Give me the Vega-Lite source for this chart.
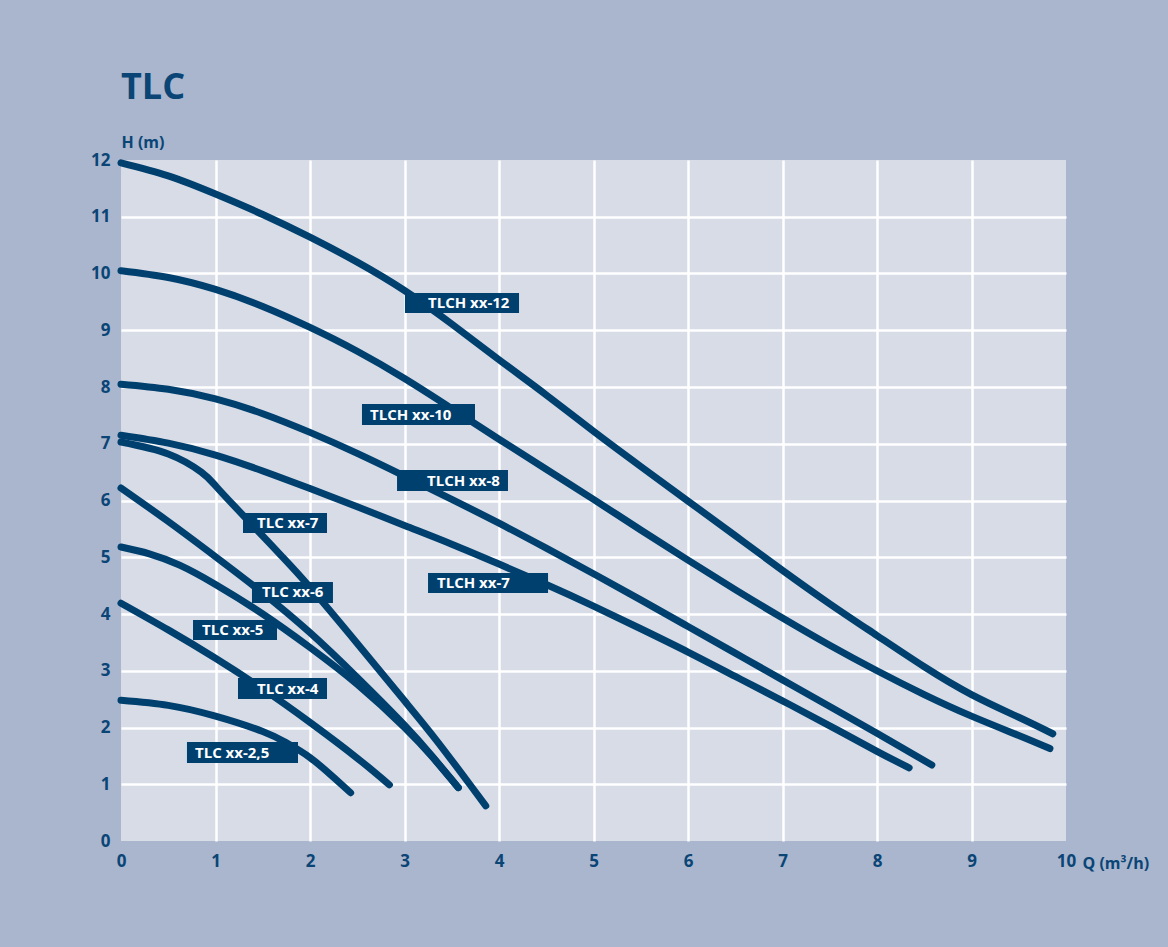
{
  "$schema": "https://vega.github.io/schema/vega-lite/v6.json",
  "width": 945,
  "height": 681,
  "autosize": {"type": "none"},
  "padding": {"left": 121, "top": 160, "right": 102, "bottom": 106},
  "background": "#a9b6ce",
  "title": {"text": "TLC", "anchor": "start", "frame": "group", "fontSize": 36, "font": "Open Sans", "fontWeight": "bold", "color": "#0a4576", "offset": 27},
  "config": {
    "view": {"fill": "#d8dce6", "stroke": null},
    "axis": {"domain": false, "ticks": false, "labelFont": "Open Sans", "labelFontWeight": "bold", "labelFontSize": 17, "labelColor": "#0a4576", "titleFont": "Open Sans", "titleFontWeight": "bold", "titleColor": "#0a4576", "gridWidth": 2.5, "format": "d"}
  },
  "datasets": {
    "curves": [
      {"pump": "TLCH xx-12", "Q": 0, "H": 11.95}, {"pump": "TLCH xx-12", "Q": 0.5, "H": 11.72}, {"pump": "TLCH xx-12", "Q": 1, "H": 11.4}, {"pump": "TLCH xx-12", "Q": 1.5, "H": 11.04}, {"pump": "TLCH xx-12", "Q": 2, "H": 10.64}, {"pump": "TLCH xx-12", "Q": 2.5, "H": 10.2}, {"pump": "TLCH xx-12", "Q": 3, "H": 9.7}, {"pump": "TLCH xx-12", "Q": 3.5, "H": 9.11}, {"pump": "TLCH xx-12", "Q": 4, "H": 8.48}, {"pump": "TLCH xx-12", "Q": 4.5, "H": 7.86}, {"pump": "TLCH xx-12", "Q": 5, "H": 7.22}, {"pump": "TLCH xx-12", "Q": 5.5, "H": 6.6}, {"pump": "TLCH xx-12", "Q": 6, "H": 5.99}, {"pump": "TLCH xx-12", "Q": 6.5, "H": 5.38}, {"pump": "TLCH xx-12", "Q": 7, "H": 4.77}, {"pump": "TLCH xx-12", "Q": 7.5, "H": 4.18}, {"pump": "TLCH xx-12", "Q": 8, "H": 3.62}, {"pump": "TLCH xx-12", "Q": 8.5, "H": 3.07}, {"pump": "TLCH xx-12", "Q": 9, "H": 2.58}, {"pump": "TLCH xx-12", "Q": 9.5, "H": 2.18}, {"pump": "TLCH xx-12", "Q": 9.86, "H": 1.89},
      {"pump": "TLCH xx-10", "Q": 0, "H": 10.05}, {"pump": "TLCH xx-10", "Q": 0.5, "H": 9.93}, {"pump": "TLCH xx-10", "Q": 1, "H": 9.72}, {"pump": "TLCH xx-10", "Q": 1.5, "H": 9.42}, {"pump": "TLCH xx-10", "Q": 2, "H": 9.05}, {"pump": "TLCH xx-10", "Q": 2.5, "H": 8.63}, {"pump": "TLCH xx-10", "Q": 3, "H": 8.15}, {"pump": "TLCH xx-10", "Q": 3.5, "H": 7.62}, {"pump": "TLCH xx-10", "Q": 4, "H": 7.08}, {"pump": "TLCH xx-10", "Q": 4.5, "H": 6.55}, {"pump": "TLCH xx-10", "Q": 5, "H": 6.02}, {"pump": "TLCH xx-10", "Q": 5.5, "H": 5.48}, {"pump": "TLCH xx-10", "Q": 6, "H": 4.95}, {"pump": "TLCH xx-10", "Q": 6.5, "H": 4.43}, {"pump": "TLCH xx-10", "Q": 7, "H": 3.93}, {"pump": "TLCH xx-10", "Q": 7.5, "H": 3.45}, {"pump": "TLCH xx-10", "Q": 8, "H": 3.0}, {"pump": "TLCH xx-10", "Q": 8.5, "H": 2.58}, {"pump": "TLCH xx-10", "Q": 9, "H": 2.2}, {"pump": "TLCH xx-10", "Q": 9.5, "H": 1.86}, {"pump": "TLCH xx-10", "Q": 9.83, "H": 1.63},
      {"pump": "TLCH xx-8", "Q": 0, "H": 8.05}, {"pump": "TLCH xx-8", "Q": 0.5, "H": 7.96}, {"pump": "TLCH xx-8", "Q": 1, "H": 7.79}, {"pump": "TLCH xx-8", "Q": 1.5, "H": 7.53}, {"pump": "TLCH xx-8", "Q": 2, "H": 7.2}, {"pump": "TLCH xx-8", "Q": 2.5, "H": 6.83}, {"pump": "TLCH xx-8", "Q": 3, "H": 6.43}, {"pump": "TLCH xx-8", "Q": 3.5, "H": 6.02}, {"pump": "TLCH xx-8", "Q": 4, "H": 5.6}, {"pump": "TLCH xx-8", "Q": 4.5, "H": 5.16}, {"pump": "TLCH xx-8", "Q": 5, "H": 4.71}, {"pump": "TLCH xx-8", "Q": 5.5, "H": 4.25}, {"pump": "TLCH xx-8", "Q": 6, "H": 3.78}, {"pump": "TLCH xx-8", "Q": 6.5, "H": 3.31}, {"pump": "TLCH xx-8", "Q": 7, "H": 2.84}, {"pump": "TLCH xx-8", "Q": 7.5, "H": 2.37}, {"pump": "TLCH xx-8", "Q": 8, "H": 1.9}, {"pump": "TLCH xx-8", "Q": 8.58, "H": 1.34},
      {"pump": "TLCH xx-7", "Q": 0, "H": 7.15}, {"pump": "TLCH xx-7", "Q": 0.5, "H": 7.01}, {"pump": "TLCH xx-7", "Q": 1, "H": 6.8}, {"pump": "TLCH xx-7", "Q": 1.5, "H": 6.52}, {"pump": "TLCH xx-7", "Q": 2, "H": 6.21}, {"pump": "TLCH xx-7", "Q": 2.5, "H": 5.89}, {"pump": "TLCH xx-7", "Q": 3, "H": 5.56}, {"pump": "TLCH xx-7", "Q": 3.5, "H": 5.23}, {"pump": "TLCH xx-7", "Q": 4, "H": 4.88}, {"pump": "TLCH xx-7", "Q": 4.5, "H": 4.52}, {"pump": "TLCH xx-7", "Q": 5, "H": 4.14}, {"pump": "TLCH xx-7", "Q": 5.5, "H": 3.74}, {"pump": "TLCH xx-7", "Q": 6, "H": 3.33}, {"pump": "TLCH xx-7", "Q": 6.5, "H": 2.9}, {"pump": "TLCH xx-7", "Q": 7, "H": 2.47}, {"pump": "TLCH xx-7", "Q": 7.5, "H": 2.03}, {"pump": "TLCH xx-7", "Q": 8, "H": 1.58}, {"pump": "TLCH xx-7", "Q": 8.34, "H": 1.29},
      {"pump": "TLC xx-7", "Q": 0, "H": 7.03}, {"pump": "TLC xx-7", "Q": 0.5, "H": 6.82}, {"pump": "TLC xx-7", "Q": 0.85, "H": 6.5}, {"pump": "TLC xx-7", "Q": 1, "H": 6.26}, {"pump": "TLC xx-7", "Q": 1.2, "H": 5.9}, {"pump": "TLC xx-7", "Q": 1.4, "H": 5.55}, {"pump": "TLC xx-7", "Q": 1.7, "H": 5.02}, {"pump": "TLC xx-7", "Q": 2, "H": 4.47}, {"pump": "TLC xx-7", "Q": 2.5, "H": 3.48}, {"pump": "TLC xx-7", "Q": 3, "H": 2.47}, {"pump": "TLC xx-7", "Q": 3.34, "H": 1.77}, {"pump": "TLC xx-7", "Q": 3.69, "H": 1.0}, {"pump": "TLC xx-7", "Q": 3.86, "H": 0.62},
      {"pump": "TLC xx-6", "Q": 0, "H": 6.22}, {"pump": "TLC xx-6", "Q": 0.5, "H": 5.63}, {"pump": "TLC xx-6", "Q": 1, "H": 5.01}, {"pump": "TLC xx-6", "Q": 1.5, "H": 4.37}, {"pump": "TLC xx-6", "Q": 2, "H": 3.67}, {"pump": "TLC xx-6", "Q": 2.5, "H": 2.88}, {"pump": "TLC xx-6", "Q": 3, "H": 2.04}, {"pump": "TLC xx-6", "Q": 3.3, "H": 1.48}, {"pump": "TLC xx-6", "Q": 3.57, "H": 0.94},
      {"pump": "TLC xx-5", "Q": 0, "H": 5.18}, {"pump": "TLC xx-5", "Q": 0.3, "H": 5.06}, {"pump": "TLC xx-5", "Q": 0.62, "H": 4.86}, {"pump": "TLC xx-5", "Q": 1, "H": 4.52}, {"pump": "TLC xx-5", "Q": 1.5, "H": 4.0}, {"pump": "TLC xx-5", "Q": 2, "H": 3.41}, {"pump": "TLC xx-5", "Q": 2.5, "H": 2.76}, {"pump": "TLC xx-5", "Q": 3, "H": 2.0}, {"pump": "TLC xx-5", "Q": 3.3, "H": 1.47}, {"pump": "TLC xx-5", "Q": 3.57, "H": 0.94},
      {"pump": "TLC xx-4", "Q": 0, "H": 4.19}, {"pump": "TLC xx-4", "Q": 0.5, "H": 3.72}, {"pump": "TLC xx-4", "Q": 1, "H": 3.22}, {"pump": "TLC xx-4", "Q": 1.5, "H": 2.68}, {"pump": "TLC xx-4", "Q": 2, "H": 2.09}, {"pump": "TLC xx-4", "Q": 2.5, "H": 1.46}, {"pump": "TLC xx-4", "Q": 2.84, "H": 0.99},
      {"pump": "TLC xx-2,5", "Q": 0, "H": 2.48}, {"pump": "TLC xx-2,5", "Q": 0.5, "H": 2.39}, {"pump": "TLC xx-2,5", "Q": 1, "H": 2.2}, {"pump": "TLC xx-2,5", "Q": 1.5, "H": 1.93}, {"pump": "TLC xx-2,5", "Q": 1.75, "H": 1.73}, {"pump": "TLC xx-2,5", "Q": 2, "H": 1.47}, {"pump": "TLC xx-2,5", "Q": 2.25, "H": 1.12}, {"pump": "TLC xx-2,5", "Q": 2.43, "H": 0.85}
    ],
    "labels": [
      {"name": "TLCH xx-12", "q": 3.249, "h": 9.48, "q1": 3.005, "q2": 4.212, "h1": 9.656, "h2": 9.304},
      {"name": "TLCH xx-10", "q": 2.635, "h": 7.515, "q1": 2.55, "q2": 3.746, "h1": 7.70, "h2": 7.33},
      {"name": "TLCH xx-8", "q": 3.238, "h": 6.352, "q1": 2.921, "q2": 4.095, "h1": 6.537, "h2": 6.167},
      {"name": "TLCH xx-7", "q": 3.344, "h": 4.546, "q1": 3.249, "q2": 4.519, "h1": 4.722, "h2": 4.37},
      {"name": "TLC xx-7", "q": 1.439, "h": 5.604, "q1": 1.291, "q2": 2.18, "h1": 5.78, "h2": 5.427},
      {"name": "TLC xx-6", "q": 1.492, "h": 4.379, "q1": 1.386, "q2": 2.243, "h1": 4.564, "h2": 4.194},
      {"name": "TLC xx-5", "q": 0.857, "h": 3.718, "q1": 0.762, "q2": 1.651, "h1": 3.894, "h2": 3.542},
      {"name": "TLC xx-4", "q": 1.439, "h": 2.687, "q1": 1.238, "q2": 2.18, "h1": 2.872, "h2": 2.502},
      {"name": "TLC xx-2,5", "q": 0.783, "h": 1.559, "q1": 0.698, "q2": 1.873, "h1": 1.744, "h2": 1.374}
    ]
  },
  "layer": [
    {
      "data": {"name": "curves"},
      "mark": {"type": "line", "interpolate": "natural", "strokeWidth": 7, "strokeCap": "round", "strokeJoin": "round", "color": "#00406f"},
      "encoding": {
        "x": {"field": "Q", "type": "quantitative", "scale": {"domain": [0, 10], "nice": false},
          "axis": {"values": [0, 1, 2, 3, 4, 5, 6, 7, 8, 9, 10], "title": "Q (m³/h)", "titleFontSize": 16, "titleX": 961, "titleY": 27, "titleAnchor": "start", "titleAlign": "left", "titleBaseline": "alphabetic", "labelPadding": 12, "labelFlush": false,
            "gridColor": {"condition": {"test": "datum.value === 0 || datum.value === 10", "value": "transparent"}, "value": "#ffffff"}}},
        "y": {"field": "H", "type": "quantitative", "scale": {"domain": [0, 12], "nice": false},
          "axis": {"values": [0, 1, 2, 3, 4, 5, 6, 7, 8, 9, 10, 11, 12], "title": "H (m)", "titleFontSize": 16, "titleAngle": 0, "titleX": 0, "titleY": -13, "titleAnchor": "start", "titleAlign": "left", "titleBaseline": "alphabetic", "labelPadding": 11, "labelFlush": false,
            "gridColor": {"condition": {"test": "datum.value === 0 || datum.value === 12", "value": "transparent"}, "value": "#ffffff"}}},
        "detail": {"field": "pump", "type": "nominal"}
      }
    },
    {
      "data": {"name": "labels"},
      "mark": {"type": "rect", "color": "#00406f"},
      "encoding": {
        "x": {"field": "q1", "type": "quantitative"},
        "x2": {"field": "q2"},
        "y": {"field": "h1", "type": "quantitative"},
        "y2": {"field": "h2"}
      }
    },
    {
      "data": {"name": "labels"},
      "mark": {"type": "text", "align": "left", "baseline": "middle", "color": "#ffffff", "font": "Open Sans", "fontWeight": "bold", "fontSize": 15},
      "encoding": {
        "x": {"field": "q", "type": "quantitative"},
        "y": {"field": "h", "type": "quantitative"},
        "text": {"field": "name", "type": "nominal"}
      }
    }
  ]
}
